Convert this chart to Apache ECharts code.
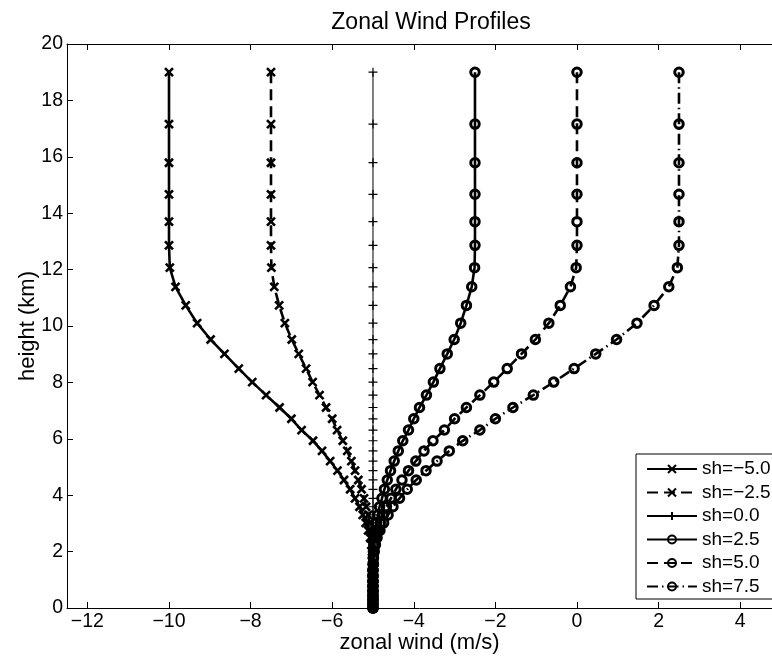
<!DOCTYPE html>
<html>
<head>
<meta charset="utf-8">
<script src="https://cdn.jsdelivr.net/npm/echarts@6/dist/echarts.min.js"></script>
<style>
  html, body { margin: 0; padding: 0; background: #fff; }
  #chart { width: 772px; height: 665px; }
</style>
</head>
<body>
<div id="chart"></div>
<script>
// heights (km) of the model levels, top to bottom
const heights = [19.0, 17.16, 15.79, 14.67, 13.70, 12.86, 12.07, 11.39, 10.73, 10.10,
  9.52, 9.01, 8.49, 8.01, 7.55, 7.11, 6.71, 6.31, 5.93, 5.57, 5.21, 4.87, 4.54, 4.21,
  3.89, 3.59, 3.30, 3.02, 2.75, 2.49, 2.24, 2.00, 1.77, 1.55, 1.34, 1.14, 0.95, 0.77,
  0.60, 0.44, 0.29, 0.14, 0.0]

// zonal wind (m/s) per level for each shear value
const windShM50 = [-10, -10, -10, -10, -10, -10, -9.98, -9.84, -9.59, -9.31, -8.98, -8.64,
  -8.29, -7.96, -7.62, -7.29, -7.00, -6.75, -6.47, -6.25, -6.05, -5.87, -5.71, -5.56,
  -5.44, -5.33, -5.25, -5.18, -5.12, -5.07, -5.04, -5.02, -5.01, -5.01, -5, -5, -5, -5,
  -5, -5, -5, -5, -5]
const windShM25 = [-7.5, -7.5, -7.5, -7.5, -7.5, -7.5, -7.49, -7.42, -7.30, -7.16, -6.99,
  -6.82, -6.64, -6.48, -6.31, -6.15, -6.00, -5.88, -5.74, -5.63, -5.53, -5.44, -5.36,
  -5.28, -5.22, -5.17, -5.12, -5.09, -5.06, -5.04, -5.02, -5.01, -5.01, -5.00, -5, -5,
  -5, -5, -5, -5, -5, -5, -5]
const windSh00 = [-5, -5, -5, -5, -5, -5, -5, -5, -5, -5, -5, -5, -5, -5, -5, -5, -5, -5,
  -5, -5, -5, -5, -5, -5, -5, -5, -5, -5, -5, -5, -5, -5, -5, -5, -5, -5, -5, -5, -5, -5,
  -5, -5, -5]
const windSh25 = [-2.5, -2.5, -2.5, -2.5, -2.5, -2.5, -2.51, -2.58, -2.71, -2.85, -3.01,
  -3.18, -3.36, -3.52, -3.69, -3.86, -4.00, -4.13, -4.27, -4.38, -4.48, -4.57, -4.65,
  -4.72, -4.78, -4.84, -4.88, -4.91, -4.94, -4.97, -4.98, -4.99, -4.99, -5.00, -5, -5,
  -5, -5, -5, -5, -5, -5, -5]
const windSh50 = [0, 0, 0, 0, 0, 0, -0.02, -0.16, -0.41, -0.69, -1.02, -1.36, -1.71, -2.04,
  -2.38, -2.71, -3.00, -3.25, -3.53, -3.75, -3.95, -4.13, -4.29, -4.44, -4.56, -4.67,
  -4.75, -4.82, -4.88, -4.93, -4.96, -4.98, -4.99, -4.99, -5, -5, -5, -5, -5, -5, -5,
  -5, -5]
const windSh75 = [2.5, 2.5, 2.5, 2.5, 2.5, 2.5, 2.46, 2.25, 1.89, 1.47, 0.97, 0.46, -0.07,
  -0.57, -1.07, -1.57, -2.00, -2.38, -2.80, -3.13, -3.43, -3.70, -3.94, -4.16, -4.35,
  -4.51, -4.63, -4.74, -4.83, -4.90, -4.94, -4.97, -4.99, -4.99, -5, -5, -5, -5, -5, -5,
  -5, -5, -5]

const seriesNames = ["sh=−5.0", "sh=−2.5", "sh=0.0", "sh=2.5", "sh=5.0", "sh=7.5"]
const xTicks = [-12, -10, -8, -6, -4, -2, 0, 2, 4]

const FONT = "Liberation Sans"
const crossMark = "path://M0,0L10,10M10,0L0,10"
const plusMark = "path://M5,0L5,10M0,5L10,5"
const NONE = "rgba(0,0,0,0)"

const pairs = winds => winds.map((u, i) => [u, heights[i]])
const minus = v => String(v).replace("-", "\u2212")

const makeSeries = (name, winds, opts) => ({
  name,
  type: "line",
  data: pairs(winds),
  showAllSymbol: true,
  symbol: opts.symbol,
  symbolSize: opts.size,
  symbolKeepAspect: true,
  clip: false,
  lineStyle: { color: "#000", width: opts.width, type: opts.dash },
  itemStyle: {
    color: opts.fill,
    borderColor: "#000",
    borderWidth: opts.border,
  },
  emphasis: { disabled: true },
})

const series = [
  makeSeries(seriesNames[0], windShM50, { symbol: crossMark, size: 8, width: 2.6, dash: "solid", fill: NONE, border: 2.6 }),
  makeSeries(seriesNames[1], windShM25, { symbol: crossMark, size: 8, width: 2.6, dash: [11, 6], fill: NONE, border: 2.6 }),
  makeSeries(seriesNames[2], windSh00, { symbol: plusMark, size: 9, width: 1, dash: "solid", fill: NONE, border: 1.2 }),
  makeSeries(seriesNames[3], windSh25, { symbol: "circle", size: 8.5, width: 2.6, dash: "solid", fill: NONE, border: 3 }),
  makeSeries(seriesNames[4], windSh50, { symbol: "circle", size: 8.5, width: 2.6, dash: [11, 6], fill: NONE, border: 3 }),
  makeSeries(seriesNames[5], windSh75, { symbol: "circle", size: 8.5, width: 2.6, dash: [11, 4, 1.5, 4], fill: NONE, border: 3 }),
]

const axisLine = { show: true, onZero: false, lineStyle: { color: "#000", width: 1 } }
const tickStyle = { show: true, inside: true, length: 6, lineStyle: { color: "#000" } }

const option = {
  animation: false,
  backgroundColor: "#fff",
  textStyle: { fontFamily: FONT, color: "#000" },
  title: {
    text: "Zonal Wind Profiles",
    left: 426,
    textAlign: "center",
    top: 6,
    textStyle: { fontFamily: FONT, fontSize: 23, fontWeight: "normal", color: "#000" },
  },
  grid: { left: 67, top: 44, right: 0, bottom: 57, containLabel: false },
  legend: {
    orient: "vertical",
    left: 636,
    top: 454,
    data: seriesNames,
    itemWidth: 50,
    itemHeight: 10,
    itemGap: 4.5,
    padding: [5.5, 10, 3, 10],
    backgroundColor: "#fff",
    borderColor: "#000",
    borderWidth: 1,
    borderRadius: 0,
    selectedMode: false,
    textStyle: { fontFamily: FONT, fontSize: 19, lineHeight: 19, color: "#000" },
  },
  xAxis: [
    {
      type: "value",
      min: -12.5,
      max: 4.78,
      name: "zonal wind (m/s)",
      nameLocation: "middle",
      nameGap: 24,
      nameMoveOverlap: false,
      nameTextStyle: { fontFamily: FONT, fontSize: 22, color: "#000" },
      axisLine,
      axisTick: { ...tickStyle, customValues: xTicks },
      axisLabel: {
        customValues: xTicks,
        margin: 4,
        fontFamily: FONT,
        fontSize: 19.5,
        color: "#000",
        formatter: minus,
      },
      splitLine: { show: false },
    },
    {
      type: "value",
      position: "top",
      min: -12.5,
      max: 4.78,
      axisLine,
      axisTick: { ...tickStyle, customValues: xTicks },
      axisLabel: { show: false },
      splitLine: { show: false },
    },
  ],
  yAxis: {
    type: "value",
    min: 0,
    max: 20,
    interval: 2,
    name: "height (km)",
    nameLocation: "middle",
    nameGap: 28,
    nameMoveOverlap: false,
    nameTextStyle: { fontFamily: FONT, fontSize: 22, color: "#000" },
    axisLine,
    axisTick: tickStyle,
    axisLabel: { margin: 4, fontFamily: FONT, fontSize: 19.5, color: "#000" },
    splitLine: { show: false },
  },
  series,
}

const chart = echarts.init(document.getElementById("chart"), null, { renderer: "canvas" })
chart.setOption(option)
window.addEventListener("resize", () => chart.resize())
</script>
</body>
</html>
